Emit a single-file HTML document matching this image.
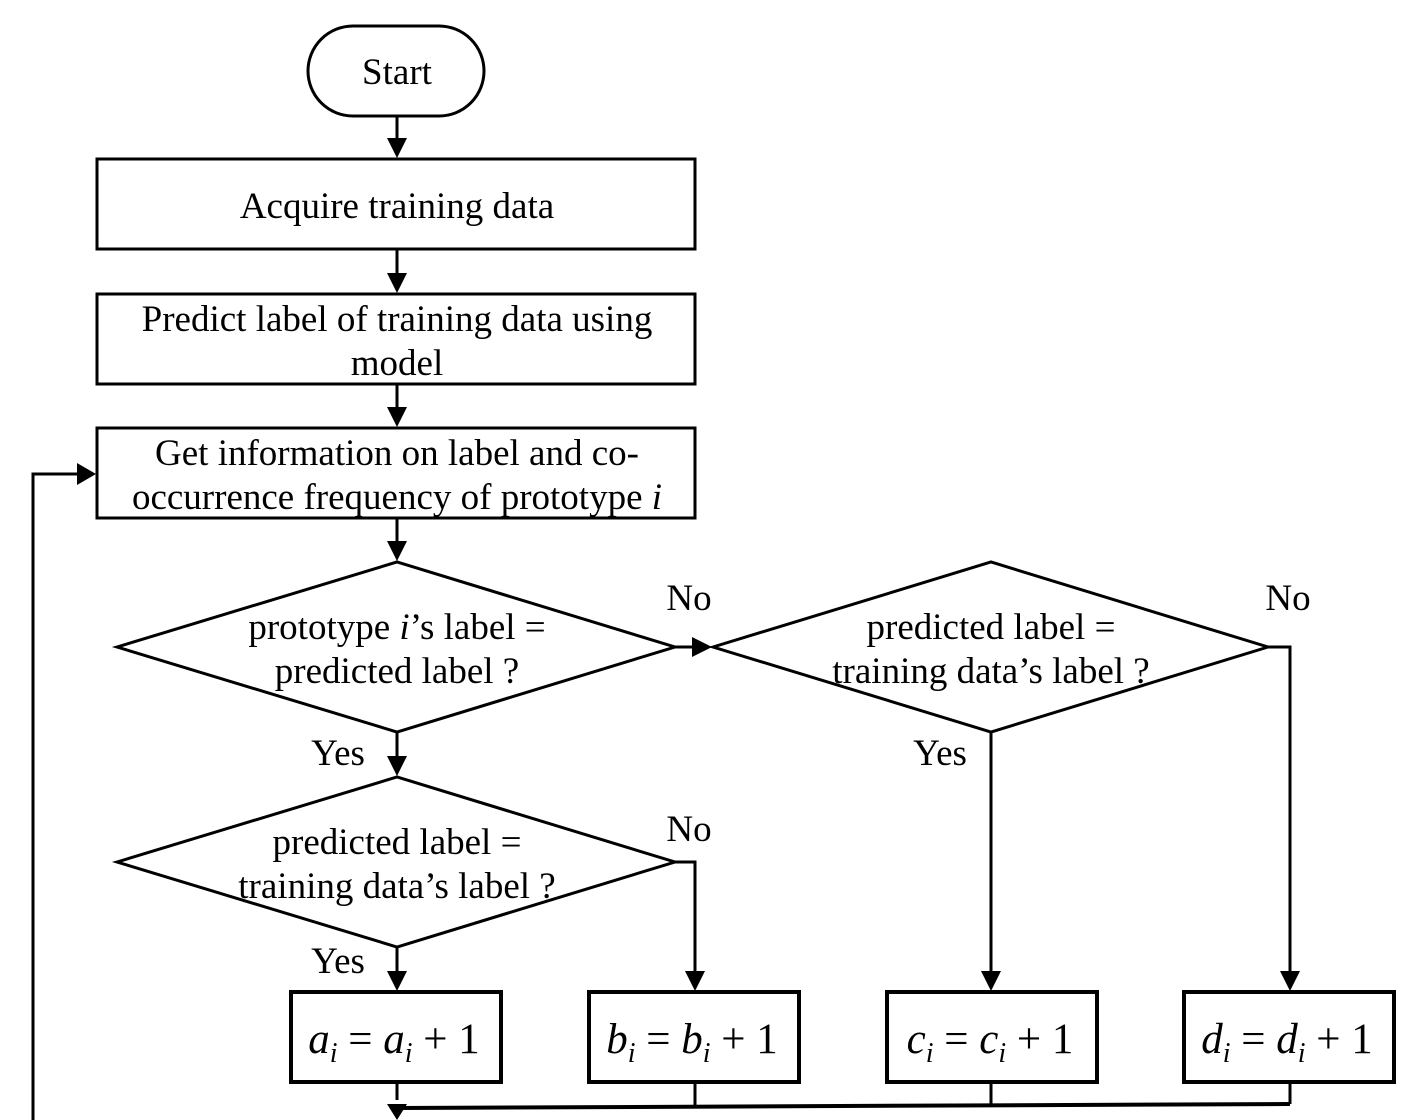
<!DOCTYPE html>
<html><head><meta charset="utf-8"><style>
html,body{margin:0;padding:0;background:#fff;}
svg{display:block;}
text{font-family:"Liberation Serif",serif;font-size:37px;fill:#000;}
.m{font-style:italic;font-size:43px;}
</style></head><body>
<svg width="1418" height="1120" viewBox="0 0 1418 1120" xmlns="http://www.w3.org/2000/svg">
<g stroke="#000" stroke-width="3" fill="none">
<rect x="308" y="26" width="176" height="90" rx="45"/>
<rect x="97" y="159" width="598" height="90"/>
<rect x="97" y="294" width="598" height="90"/>
<rect x="97" y="428" width="598" height="90"/>
<polygon points="117,647 397,562 675,647 397,732"/>
<polygon points="713,647 991,562 1268,647 991,732"/>
<polygon points="117,862 397,777 675,862 397,947"/>
<rect x="291" y="992" width="210" height="90" stroke-width="4"/>
<rect x="589" y="992" width="210" height="90" stroke-width="4"/>
<rect x="887" y="992" width="210" height="90" stroke-width="4"/>
<rect x="1184" y="992" width="210" height="90" stroke-width="4"/>
</g>
<g stroke="#000" stroke-width="3" fill="none">
<line x1="397" y1="116" x2="397" y2="140"/>
<line x1="397" y1="249" x2="397" y2="275"/>
<line x1="397" y1="384" x2="397" y2="409"/>
<line x1="397" y1="518" x2="397" y2="543"/>
<line x1="675" y1="647" x2="694" y2="647"/>
<line x1="397" y1="732" x2="397" y2="758"/>
<line x1="397" y1="947" x2="397" y2="973"/>
<polyline points="675,862 695,862 695,973"/>
<line x1="991" y1="732" x2="991" y2="973"/>
<polyline points="1268,647 1290,647 1290,973"/>
<line x1="397" y1="1082" x2="397" y2="1100"/>
<line x1="695" y1="1082" x2="695" y2="1106"/>
<line x1="991" y1="1082" x2="991" y2="1106"/>
<line x1="1290" y1="1082" x2="1290" y2="1104"/>
<line x1="1290" y1="1104" x2="400" y2="1108" stroke-width="4"/>
<polyline points="33,1120 33,474 78,474"/>
</g>
<g fill="#000">
<path d="M387,138 L407,138 L397,158 z"/>
<path d="M387,273 L407,273 L397,293 z"/>
<path d="M387,407 L407,407 L397,427 z"/>
<path d="M387,541 L407,541 L397,561 z"/>
<path d="M692,637 L692,657 L712,647 z"/>
<path d="M387,756 L407,756 L397,776 z"/>
<path d="M387,971 L407,971 L397,991 z"/>
<path d="M685,971 L705,971 L695,991 z"/>
<path d="M981,971 L1001,971 L991,991 z"/>
<path d="M1280,971 L1300,971 L1290,991 z"/>
<path d="M387,1104 L407,1104 L397,1120 z"/>
<path d="M77,463 L77,485 L96,474 z"/>
</g>
<g text-anchor="middle">
<text x="397" y="84">Start</text>
<text x="397" y="218">Acquire training data</text>
<text x="397" y="331">Predict label of training data using</text>
<text x="397" y="375">model</text>
<text x="397" y="465">Get information on label and co-</text>
<text x="397" y="509">occurrence frequency of prototype <tspan font-style="italic">i</tspan></text>
<text x="397" y="639">prototype <tspan font-style="italic">i</tspan>’s label =</text>
<text x="397" y="683">predicted label ?</text>
<text x="991" y="639">predicted label =</text>
<text x="991" y="683">training data’s label ?</text>
<text x="397" y="854">predicted label =</text>
<text x="397" y="898">training data’s label ?</text>
<text x="689" y="610">No</text>
<text x="1288" y="610">No</text>
<text x="689" y="841">No</text>
<text x="338" y="765">Yes</text>
<text x="940" y="765">Yes</text>
<text x="338" y="973">Yes</text>
<text x="394" y="1053" class="m">a<tspan font-size="28" dy="9">i</tspan><tspan dy="-9" font-style="normal"> = </tspan>a<tspan font-size="28" dy="9">i</tspan><tspan dy="-9" font-style="normal"> + 1</tspan></text>
<text x="692" y="1053" class="m">b<tspan font-size="28" dy="9">i</tspan><tspan dy="-9" font-style="normal"> = </tspan>b<tspan font-size="28" dy="9">i</tspan><tspan dy="-9" font-style="normal"> + 1</tspan></text>
<text x="990" y="1053" class="m">c<tspan font-size="28" dy="9">i</tspan><tspan dy="-9" font-style="normal"> = </tspan>c<tspan font-size="28" dy="9">i</tspan><tspan dy="-9" font-style="normal"> + 1</tspan></text>
<text x="1287" y="1053" class="m">d<tspan font-size="28" dy="9">i</tspan><tspan dy="-9" font-style="normal"> = </tspan>d<tspan font-size="28" dy="9">i</tspan><tspan dy="-9" font-style="normal"> + 1</tspan></text>
</g>
</svg>
</body></html>
